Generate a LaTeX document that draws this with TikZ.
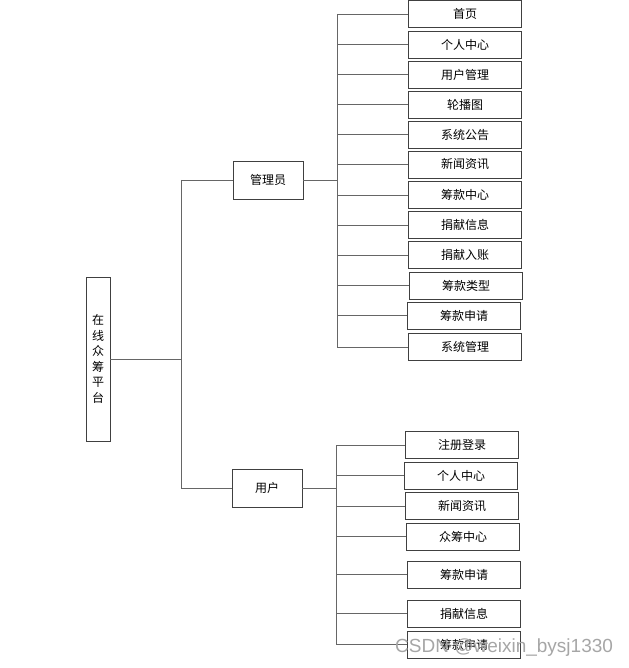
\documentclass[tikz,border=0pt]{standalone}
\usepackage{fontspec}
\newfontfamily\cjk{Noto Sans CJK SC}
\newfontfamily\wmfont{Liberation Sans}
\begin{document}
\begin{tikzpicture}[x=1pt,y=-1pt,
  box/.style={draw=black!75, line width=0.8pt, inner sep=0pt, font=\cjk\fontsize{12}{15.5}\selectfont, text=black},
  leaf/.style={box, minimum width=113pt, minimum height=27pt},
  mid/.style={box, minimum width=70pt, minimum height=38pt},
  conn/.style={draw=black!60, line width=0.8pt}]
\useasboundingbox (0,0) rectangle (628,668);
% root
\node[box, minimum width=24pt, minimum height=164pt, align=center] (root) at (98,359)
  {在\\线\\众\\筹\\平\\台};
\node[mid] (admin) at (268,180) {管理员};
\node[mid] (user) at (267,488) {用户};
\coordinate (trunk) at (181,0);
\coordinate (abus) at (337,0);
\coordinate (ubus) at (336,0);
% admin children
\node[leaf] (a1) at (465,14) {首页};
\node[leaf] (a2) at (465,44.5) {个人中心};
\node[leaf] (a3) at (465,74.5) {用户管理};
\node[leaf] (a4) at (465,104.5) {轮播图};
\node[leaf] (a5) at (465,134.5) {系统公告};
\node[leaf] (a6) at (465,164.5) {新闻资讯};
\node[leaf] (a7) at (465,195) {筹款中心};
\node[leaf] (a8) at (465,225) {捐献信息};
\node[leaf] (a9) at (465,255) {捐献入账};
\node[leaf] (a10) at (466,285.5) {筹款类型};
\node[leaf] (a11) at (464,315.5) {筹款申请};
\node[leaf] (a12) at (465,347) {系统管理};
% user children
\node[leaf] (u1) at (462,445) {注册登录};
\node[leaf] (u2) at (461,475.5) {个人中心};
\node[leaf] (u3) at (462,506) {新闻资讯};
\node[leaf] (u4) at (463,536.5) {众筹中心};
\node[leaf] (u5) at (464,574.5) {筹款申请};
\node[leaf] (u6) at (464,613.5) {捐献信息};
\node[leaf] (u7) at (464,644.5) {筹款申请};
% root connectors
\draw[conn] (root.east) -- (root.east -| trunk);
\draw[conn] (admin.west -| trunk) -- (user.west -| trunk);
\draw[conn] (admin.west -| trunk) -- (admin.west);
\draw[conn] (user.west -| trunk) -- (user.west);
% admin bus
\draw[conn] (admin.east) -- (admin.east -| abus);
\draw[conn] (a1.west -| abus) -- (a12.west -| abus);
\foreach \i in {1,...,12} { \draw[conn] (a\i.west -| abus) -- (a\i.west); }
% user bus
\draw[conn] (user.east) -- (user.east -| ubus);
\draw[conn] (u1.west -| ubus) -- (u7.west -| ubus);
\foreach \i in {1,...,7} { \draw[conn] (u\i.west -| ubus) -- (u\i.west); }
% watermark
\node[anchor=west, inner sep=0pt, text=black!35, font=\wmfont\fontsize{19}{21}\selectfont] (wm) at (395,648) {CSDN @weixin\_bysj1330};
\end{tikzpicture}
\end{document}
